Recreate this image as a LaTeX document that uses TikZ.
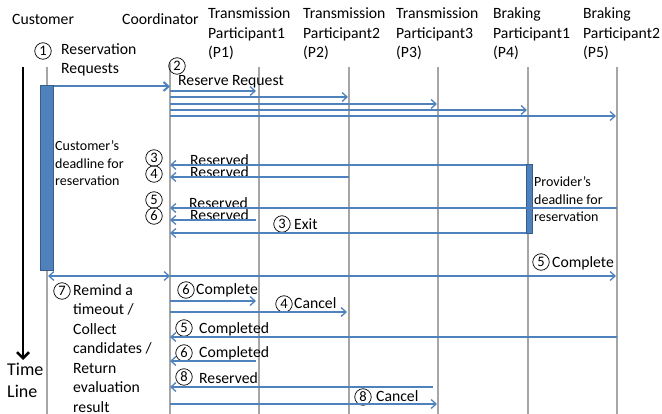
\documentclass[tikz,border=0pt]{standalone}
\usepackage{fontspec}
\setmainfont{Carlito}
\usetikzlibrary{arrows.meta}
\definecolor{msgblue}{RGB}{79,129,189}
\definecolor{bardark}{RGB}{56,93,138}
\definecolor{lifegray}{RGB}{166,166,166}
\begin{document}
\begin{tikzpicture}[x=1pt,y=-1pt,
  lbl/.style={inner sep=0pt, font=\fontsize{15.7}{19.5}\selectfont, align=left, anchor=base west},
  smalllbl/.style={inner sep=0pt, font=\fontsize{14}{17.5}\selectfont, align=left, anchor=base west},
  biglbl/.style={inner sep=0pt, font=\fontsize{18}{23}\selectfont, align=left, anchor=base west},
  num/.style={circle, draw, line width=0.7pt, minimum size=16.5pt, inner sep=0pt, font=\fontsize{14.5}{14.5}\selectfont},
  life/.style={draw=lifegray, line width=1.4pt},
  actbar/.style={draw=bardark, fill=msgblue, line width=1pt, inner sep=0pt, anchor=north west},
  msg/.style={draw=msgblue, line width=1.3pt, -{Straight Barb[length=5pt,width=9pt]}},
  msgboth/.style={draw=msgblue, line width=1.3pt, {Straight Barb[length=5pt,width=9pt]}-{Straight Barb[length=5pt,width=9pt]}},
  timearrow/.style={draw=black, line width=2.5pt, -{Straight Barb[length=6pt,width=12pt]}}
]
\useasboundingbox (0,0) rectangle (662,414);

% headers
\node[lbl] (hcust) at (12,25) {Customer};
\node[lbl] (hcoord) at (122,25) {Coordinator};
\node[lbl] (hp1) at (208,58) {Transmission\\Participant1\\(P1)};
\node[lbl] (hp2) at (303,58) {Transmission\\Participant2\\(P2)};
\node[lbl] (hp3) at (396,58) {Transmission\\Participant3\\(P3)};
\node[lbl] (hp4) at (493,58) {Braking\\Participant1\\(P4)};
\node[lbl] (hp5) at (583,58) {Braking\\Participant2\\(P5)};

% lifelines
\coordinate (bot) at (0,414);
\coordinate (L0) at (47,67);
\coordinate (L1) at (170,63);
\coordinate (L2) at (259,67);
\coordinate (L3) at (349,67);
\coordinate (L4) at (438,67);
\coordinate (L5) at (528,67);
\coordinate (L6) at (617,67);
\foreach \l in {L0,L1,L2,L3,L4,L5,L6} \draw[life] (\l) -- (\l |- bot);

% time line
\coordinate (tstart) at (23,67);
\coordinate (tend) at (23,360);
\draw[timearrow] (tstart) -- (tend);
\node[biglbl] (tl) at (7,398) {Time\\Line};

% activation bars
\node[actbar, minimum width=13pt, minimum height=185pt] (cbar) at (40,85) {};
\node[actbar, minimum width=6pt, minimum height=69pt] (pbar) at (526,164) {};

% step 1
\node[num] (n1) at (43,51) {1};
\node[lbl] (t1) at (61,74) {Reservation\\Requests};
\draw[msg, line width=2pt] ([yshift=-1.5pt]cbar.north east) -- (L1 |- 0,86.5);

% step 2
\node[num] (n2) at (177,66) {2};
\node[lbl] (t2) at (178,86) {Reserve Request};
\draw[msg] (L1 |- 0,91) -- ([xshift=-3pt]L2 |- 0,91);
\draw[msg] (L1 |- 0,97) -- ([xshift=-1pt]L3 |- 0,97);
\draw[msg] (L1 |- 0,104) -- ([xshift=-1pt]L4 |- 0,104);
\draw[msg] (L1 |- 0,110) -- ([xshift=-1pt]L5 |- 0,110);
\draw[msg] (L1 |- 0,116) -- ([xshift=-1pt]L6 |- 0,116);

% deadlines
\node[smalllbl] (cdl) at (55,186) {Customer’s\\deadline for\\reservation};
\node[smalllbl] (pdl) at (534,222) {Provider’s\\deadline for\\reservation};

% reserved replies
\node[num] (n3) at (154,158) {3};
\node[lbl] (r3) at (190,166) {Reserved};
\draw[msg] (pbar.west |- 0,165) -- (L1 |- 0,165);
\node[num] (n4) at (154,174) {4};
\node[lbl] (r4) at (190,178) {Reserved};
\draw[msg] (L3 |- 0,177) -- (L1 |- 0,177);
\node[num] (n5) at (154,200) {5};
\node[lbl] (r5) at (189,209) {Reserved};
\draw[msg] (L6 |- 0,208) -- (L1 |- 0,208);
\node[num] (n6) at (154,216) {6};
\node[lbl] (r6) at (190,221) {Reserved};
\draw[msg] ([xshift=-3pt]L2 |- 0,220) -- (L1 |- 0,220);
\node[num] (n3b) at (282,224) {3};
\node[lbl] (ex) at (294,230) {Exit};
\draw[msg] (pbar.west |- 0,233) -- (L1 |- 0,233);

% timeout
\draw[msgboth] ([xshift=1pt]L0 |- 0,276) -- (L1 |- 0,276);
\draw[msg] (L1 |- 0,276) -- ([xshift=-1pt]L6 |- 0,276);
\node[num] (n5b) at (541,262) {5};
\node[lbl] (c5) at (552,268) {Complete};

\node[num] (n7) at (62,291) {7};
\node[lbl] (t7) at (73,412) {Remind a\\timeout /\\Collect\\candidates /\\Return\\evaluation\\result};

% final phase
\node[num] (n6b) at (186,290) {6};
\node[lbl] (c6) at (196,295) {Complete};
\draw[msg] (L1 |- 0,301) -- ([xshift=-3pt]L2 |- 0,301);
\node[num] (n4b) at (284,304) {4};
\node[lbl] (k4) at (294,309) {Cancel};
\draw[msg] (L1 |- 0,312) -- ([xshift=-2pt]L3 |- 0,312);
\node[num] (n5c) at (184,328) {5};
\node[lbl] (d5) at (199,334) {Completed};
\draw[msg] (L6 |- 0,337) -- (L1 |- 0,337);
\node[num] (n6c) at (184,353) {6};
\node[lbl] (d6) at (199,358) {Completed};
\draw[msg] ([xshift=-3pt]L2 |- 0,361) -- (L1 |- 0,361);
\node[num] (n8) at (184,377) {8};
\node[lbl] (r8) at (199,383) {Reserved};
\draw[msg] ([xshift=-5pt]L4 |- 0,387) -- (L1 |- 0,387);
\node[num] (n8b) at (363,397) {8};
\node[lbl] (k8) at (376,402) {Cancel};
\draw[msg] (L1 |- 0,404) -- ([xshift=-1pt]L4 |- 0,404);
\end{tikzpicture}
\end{document}
